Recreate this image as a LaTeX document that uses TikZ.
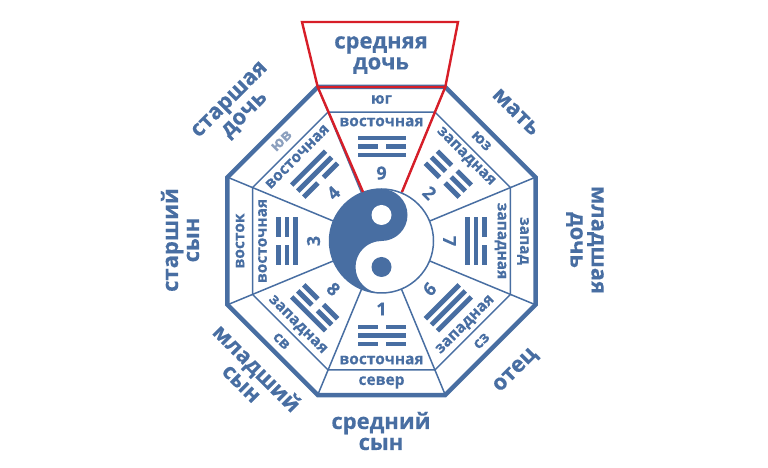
\documentclass[tikz,border=0pt]{standalone}
\usepackage{fontspec}
\setmainfont{Open Sans}[FakeBold=0.3]
\usetikzlibrary{calc}
\definecolor{bl}{RGB}{72,110,162}
\definecolor{lb}{RGB}{140,160,190}
\definecolor{rd}{RGB}{215,30,40}
\tikzset{
 lbl/.style={text=bl,font=\bfseries\fontsize{15.5}{15.5}\selectfont,inner sep=0pt},
 big/.style={text=bl,font=\bfseries\fontsize{22}{21}\selectfont,inner sep=0pt,align=center},
 num/.style={text=bl,font=\bfseries\fontsize{18}{18}\selectfont,inner sep=0pt},
}
\newcommand\tgl[3]{\begin{scope}[shift={(C)},rotate=#1-90]
\ifnum#3=1 \fill[bl] (-24,#2-2.4) rectangle (24,#2+2.4);
\else \fill[bl] (-24,#2-2.4) rectangle (-4,#2+2.4); \fill[bl] (4,#2-2.4) rectangle (24,#2+2.4);\fi\end{scope}}
\begin{document}
\begin{tikzpicture}[x=1pt,y=1pt]
\useasboundingbox (0,0) rectangle (768,468);
\coordinate (C) at (381.5,227);
% octagons
\draw[bl,line width=4.5pt,line join=miter] ($(C)+(22.5:166.7)$) \foreach \a in {67.5,112.5,...,337.5}{ -- ($(C)+(\a:166.7)$)} -- cycle;
\draw[bl,line width=1.5pt] ($(C)+(22.5:139.6)$) \foreach \a in {67.5,112.5,...,337.5}{ -- ($(C)+(\a:139.6)$)} -- cycle;
\foreach \a in {22.5,67.5,...,337.5}{\draw[bl,line width=1.5pt] ($(C)+(\a:166.7)$) -- ($(C)+(\a:52)$);}
% yin yang
\node[circle,draw=bl,line width=1.5pt,fill=white,minimum size=104pt,inner sep=0pt] (yy) at (C) {};
\fill[bl] ($(C)+(0,52)$) arc (90:270:52) arc (270:90:26) arc (-90:90:26) -- cycle;
\fill[white] ($(C)+(0,26)$) circle (10);
\fill[bl] ($(C)+(0,-26)$) circle (10);
% sectors
\foreach \t/\ring/\ew/\n/\ri/\rm/\ro/\r/\c in {
 90/юг/восточная/9/1/0/1/0/bl, 45/юз/западная/2/0/0/0/-45/bl, 0/запад/западная/7/1/1/0/-90/bl,
 -45/сз/западная/6/1/1/1/45/bl, -90/север/восточная/1/0/1/0/0/bl, -135/св/западная/8/0/0/1/-45/bl,
 180/восток/восточная/3/1/0/0/90/bl, 135/юв/восточная/4/0/1/1/45/lb}{
 \node[lbl,rotate=\r,text=\c] (ring\n) at ($(C)+(\t:141.5)$) {\ring};
 \node[lbl,rotate=\r] (ew\n) at ($(C)+(\t:119)$) {\ew};
 \node[num,rotate=\r] (n\n) at ($(C)+(\t:68)$) {\n};
 \tgl{\t}{86}{\ri}\tgl{\t}{94.5}{\rm}\tgl{\t}{103}{\ro}
}
% red
\coordinate (tl) at (302,446); \coordinate (tr) at (458,446);
\coordinate (ql) at ($(C)+(112.5:166.7)$); \coordinate (qr) at ($(C)+(67.5:166.7)$);
\draw[rd,line width=2.4pt,line join=miter] (tl) -- (tr) -- (qr) -- (ql) -- cycle;
\draw[rd,line width=2.4pt] (ql) -- (363,276) (qr) -- (402,276);
\node[big] (top) at (381,413) {средняя\\дочь};
% outer labels
\node[big,rotate=45] (o1) at (238,360) {старшая\\дочь};
\node[big,rotate=-45] (o2) at (516,356) {мать};
\node[big,rotate=-90] (o3) at (585,228) {младшая\\дочь};
\node[big,rotate=45] (o4) at (516,97) {отец};
\node[big] (o5) at (381,37) {средний\\сын};
\node[big,rotate=-45] (o6) at (250,93) {младший\\сын};
\node[big,rotate=90] (o7) at (180,228) {старший\\сын};
\end{tikzpicture}
\end{document}
